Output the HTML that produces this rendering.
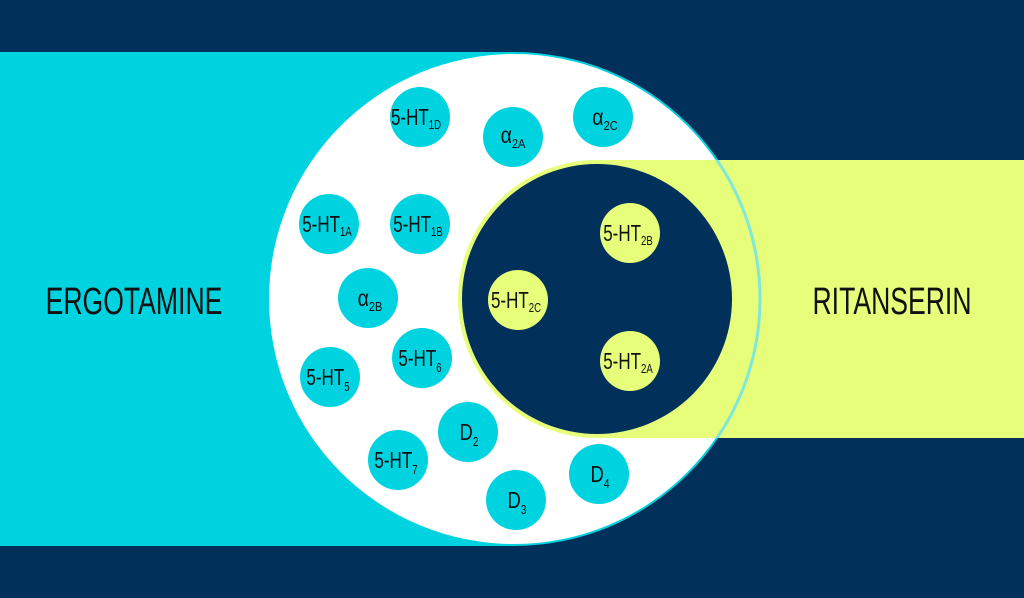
<!DOCTYPE html>
<html><head><meta charset="utf-8"><style>
html,body{margin:0;padding:0;background:#01305a;}
svg{display:block}
text{font-family:"Liberation Sans",sans-serif;fill:#111;}
</style></head><body>
<svg width="1024" height="598" viewBox="0 0 1024 598" xmlns="http://www.w3.org/2000/svg">
<rect width="1024" height="598" fill="#01305a"/>
<rect x="0" y="52" width="515" height="494" fill="#00d3e0"/>
<circle cx="514" cy="299" r="247" fill="#00d3e0"/>
<circle cx="514" cy="299" r="245" fill="#fff"/>
<rect x="597" y="160" width="427" height="278" fill="#e6fe7a"/>
<clipPath id="yl"><rect x="597" y="160" width="427" height="278"/></clipPath>
<circle cx="514" cy="299" r="246" fill="none" stroke="#7fe8d8" stroke-width="3" clip-path="url(#yl)"/>
<circle cx="597" cy="299" r="139" fill="#e6fe7a"/>
<circle cx="597" cy="299" r="135" fill="#01305a"/>
<g fill="#00d3e0">
<circle cx="420" cy="117" r="30"/><circle cx="513" cy="137" r="30"/><circle cx="603" cy="117" r="30"/>
<circle cx="329" cy="224" r="30"/><circle cx="420" cy="224" r="30"/><circle cx="368" cy="298" r="30"/>
<circle cx="422" cy="358" r="30"/><circle cx="330" cy="377" r="30"/><circle cx="468" cy="432" r="30"/>
<circle cx="398" cy="460" r="30"/><circle cx="516" cy="500" r="30"/><circle cx="599" cy="474" r="30"/>
</g>
<g fill="#e6fe7a">
<circle cx="630" cy="233" r="30"/><circle cx="518" cy="300" r="30"/><circle cx="630" cy="361" r="30"/>
</g>
<g font-size="23" text-anchor="middle">
<g transform="translate(416,125) scale(0.74,1)"><text>5-HT<tspan font-size="13" dy="4">1D</tspan></text></g>
<g transform="translate(513,143) scale(0.85,1)"><text>α<tspan font-size="13" dy="5">2A</tspan></text></g>
<g transform="translate(605,125) scale(0.85,1)"><text>α<tspan font-size="13" dy="5">2C</tspan></text></g>
<g transform="translate(327,232) scale(0.74,1)"><text>5-HT<tspan font-size="13" dy="4">1A</tspan></text></g>
<g transform="translate(418,232) scale(0.74,1)"><text>5-HT<tspan font-size="13" dy="4">1B</tspan></text></g>
<g transform="translate(370,306) scale(0.85,1)"><text>α<tspan font-size="13" dy="5">2B</tspan></text></g>
<g transform="translate(420,366) scale(0.74,1)"><text>5-HT<tspan font-size="13" dy="6">6</tspan></text></g>
<g transform="translate(328,385) scale(0.74,1)"><text>5-HT<tspan font-size="13" dy="6">5</tspan></text></g>
<g transform="translate(469,440) scale(0.8,1)"><text>D<tspan font-size="13" dy="6">2</tspan></text></g>
<g transform="translate(396,468) scale(0.74,1)"><text>5-HT<tspan font-size="13" dy="6">7</tspan></text></g>
<g transform="translate(517,508) scale(0.8,1)"><text>D<tspan font-size="13" dy="6">3</tspan></text></g>
<g transform="translate(600,482) scale(0.8,1)"><text>D<tspan font-size="13" dy="6">4</tspan></text></g>
<g transform="translate(628,241) scale(0.74,1)"><text>5-HT<tspan font-size="13" dy="4">2B</tspan></text></g>
<g transform="translate(516,308) scale(0.74,1)"><text>5-HT<tspan font-size="13" dy="4">2C</tspan></text></g>
<g transform="translate(628,369) scale(0.74,1)"><text>5-HT<tspan font-size="13" dy="4">2A</tspan></text></g>
</g>
<g font-size="38" text-anchor="middle">
<g transform="translate(134,314) scale(0.7,1)"><text>ERGOTAMINE</text></g>
<g transform="translate(892,314) scale(0.7,1)"><text>RITANSERIN</text></g>
</g>
</svg>
</body></html>
